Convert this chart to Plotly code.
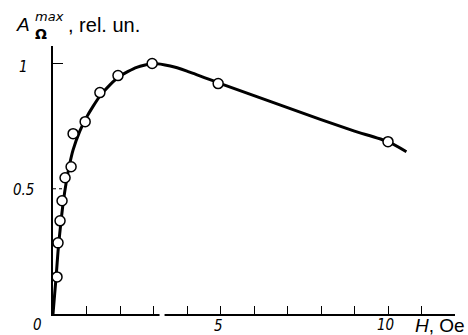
import plotly.graph_objects as go

# measured points
h_pts = [0.12, 0.15, 0.21, 0.27, 0.36, 0.54, 0.60, 0.96, 1.40, 1.94, 2.96, 4.93, 10.0]
a_pts = [0.148, 0.284, 0.372, 0.452, 0.544, 0.588, 0.72, 0.768, 0.884, 0.952, 1.0, 0.92, 0.688]

# smooth drawn curve
h_curve = [0.0, 0.05, 0.1, 0.15, 0.2, 0.3, 0.4, 0.5, 0.6, 0.8, 1.0, 1.2, 1.4, 1.7, 2.0, 2.5, 3.0, 3.5, 4.0, 5.0, 6.0, 7.0, 8.0, 9.0, 10.0, 10.55]
a_curve = [0.0, 0.08, 0.16, 0.25, 0.32, 0.44, 0.53, 0.60, 0.655, 0.73, 0.785, 0.83, 0.87, 0.915, 0.95, 0.985, 1.0, 0.99, 0.97, 0.92, 0.872, 0.824, 0.776, 0.73, 0.688, 0.648]

x_ticks = [0, 5, 10]
x_ticktext = ["0", "5", "10"]
y_ticks = [0.5, 1]
y_ticktext = ["0.5", "1"]

W, H = 468, 335
ML, MR, MT, MB = 53, 13, 46, 21

fig = go.Figure()
fig.add_trace(go.Scatter(x=h_curve, y=a_curve, mode="lines",
                         line=dict(color="black", width=3, shape="spline", smoothing=0.6),
                         hoverinfo="skip", showlegend=False))
fig.add_trace(go.Scatter(x=h_pts, y=a_pts, mode="markers",
                         marker=dict(symbol="circle", size=10, color="white",
                                     line=dict(color="black", width=1.5)),
                         showlegend=False))

lab_font = dict(family="DejaVu Sans Condensed, DejaVu Sans", size=15, color="black")

fig.update_layout(
    width=W, height=H,
    margin=dict(l=ML, r=MR, t=MT, b=MB),
    paper_bgcolor="white", plot_bgcolor="white",
    xaxis=dict(range=[0, 12], showgrid=False, zeroline=False,
               showline=True, linecolor="black", linewidth=1.5,
               tickvals=[1, 2, 3, 4, 5, 6, 7, 8, 9, 10, 11], ticks="inside", ticklen=8,
               tickcolor="black", tickwidth=1, showticklabels=False),
    yaxis=dict(range=[0, 1.07], showgrid=False, zeroline=False,
               showline=True, linecolor="black", linewidth=1.5,
               tickvals=[1], ticks="inside", ticklen=10, tickcolor="black",
               tickwidth=1, showticklabels=False),
)

# dashed tick at 0.5
fig.add_shape(type="line", xref="x", yref="y", x0=0, x1=0.3, y0=0.5, y1=0.5,
              line=dict(color="black", width=1, dash="dot"))
# axis break
fig.add_shape(type="rect", xref="x", yref="paper", x0=3.18, x1=3.33, y0=-0.02, y1=0.02,
              fillcolor="white", line=dict(width=0), layer="above")


def px(x, y):
    return (x - ML) / (W - ML - MR), (H - MB - y) / (H - MT - MB)


# tick labels placed at their pixel positions
x_label_px = {0: (37, 325), 5: (218, 326), 10: (385, 325)}
y_label_px = {0.5: (23, 190), 1: (24, 67)}
for v, t in zip(x_ticks, x_ticktext):
    fx, fy = px(*x_label_px[v])
    fig.add_annotation(x=fx, y=fy, xref="paper", yref="paper", text="<i>" + t + "</i>",
                       showarrow=False, xanchor="center", yanchor="middle", font=lab_font)
for v, t in zip(y_ticks, y_ticktext):
    fx, fy = px(*y_label_px[v])
    fig.add_annotation(x=fx, y=fy, xref="paper", yref="paper", text="<i>" + t + "</i>",
                       showarrow=False, xanchor="center", yanchor="middle", font=lab_font)

items = [
    (23, 25, "<i>A</i>", 19, "center", "Liberation Sans, Arial"),
    (49, 16, "<i>max</i>", 13, "center", "DejaVu Sans, Arial"),
    (41, 34, "<b>Ω</b>", 14, "center", "DejaVu Sans, Arial"),
    (66, 25, ", rel. un.", 20, "left", "Liberation Sans, Arial"),
    (413, 325, "<i>H</i>, Oe", 19, "left", "Liberation Sans, Arial"),
]
for x, y, t, s, xa, fam in items:
    fx, fy = px(x, y)
    fig.add_annotation(x=fx, y=fy, xref="paper", yref="paper", text=t, showarrow=False,
                       xanchor=xa, yanchor="middle",
                       font=dict(family=fam, size=s, color="black"))

fig.write_html("out.html", config={"displayModeBar": False},
               post_script="document.body.style.margin='0';")
